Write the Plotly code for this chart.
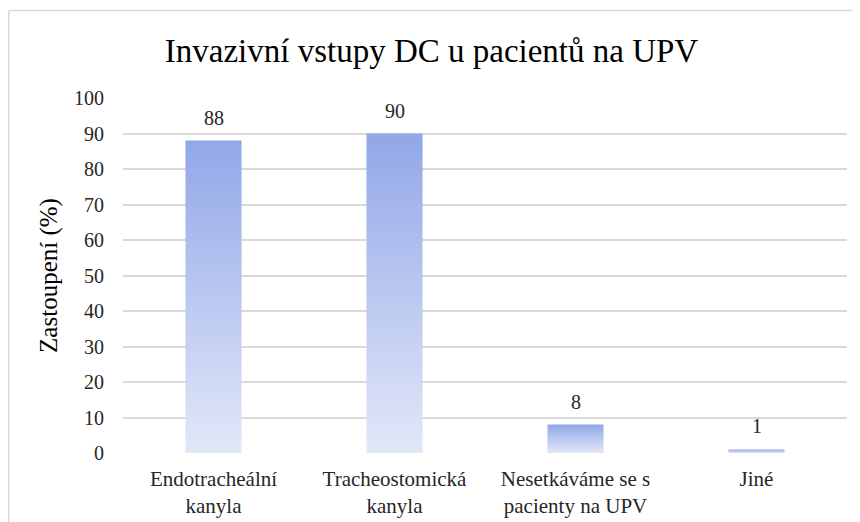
import plotly.graph_objects as go

categories = ["Endotracheální<br>kanyla", "Tracheostomická<br>kanyla", "Nesetkáváme se s<br>pacienty na UPV", "Jiné"]
values = [88, 90, 8, 1]
y_ticks = [0, 10, 20, 30, 40, 50, 60, 70, 80, 90, 100]

title_text = "Invazivní vstupy DC u pacientů na UPV"
y_title = "Zastoupení (%)"

FONT = "Liberation Serif"
TOP_COLOR = "#91A7E8"
BOTTOM_COLOR = "#E3E8F8"
HALF_W = 0.155

# plot area in figure pixels (page body adds 8px offset)
L, R, T, B = 115, 21, 90, 77
W, H = 860, 522
PW, PH = W - L - R, H - T - B

fig = go.Figure()

for i, v in enumerate(values):
    fig.add_trace(go.Scatter(
        x=[i - HALF_W, i - HALF_W, i + HALF_W, i + HALF_W, i - HALF_W],
        y=[0, v, v, 0, 0],
        fill="toself",
        mode="lines",
        line=dict(width=0),
        fillgradient=dict(type="vertical", colorscale=[[0, BOTTOM_COLOR], [1, TOP_COLOR]]),
        hoverinfo="skip",
        showlegend=False,
    ))

annotations = [
    dict(x=i, y=v, xref="x", yref="y", text=str(v), showarrow=False,
         yanchor="bottom", yshift=10, font=dict(family=FONT, size=20, color="#262626"))
    for i, v in enumerate(values)
]

def px(fx):
    return (fx - L) / PW

def py(fy):
    return (H - B - fy) / PH

fig.update_layout(
    width=W, height=H,
    margin=dict(l=L, r=R, t=T, b=B),
    paper_bgcolor="white",
    plot_bgcolor="white",
    font=dict(family=FONT, color="#262626"),
    title=dict(text=title_text, x=423.5 / W, xanchor="center", y=1 - 42 / H, yanchor="middle",
               font=dict(family=FONT, size=33, color="#000000")),
    xaxis=dict(range=[-0.5, len(values) - 0.5], tickmode="array",
               tickvals=list(range(len(values))), ticktext=categories,
               showgrid=False, zeroline=False, showline=False, ticks="",
               ticklabelstandoff=11,
               tickfont=dict(family=FONT, size=21, color="#262626")),
    yaxis=dict(range=[0, 100], tickmode="array", tickvals=y_ticks,
               showgrid=True, gridcolor="#D9D9D9", gridwidth=1.5,
               zeroline=False, showline=False, ticks="", ticklabelstandoff=18,
               tickfont=dict(family=FONT, size=20, color="#262626"),
               title=dict(text=y_title, standoff=9, font=dict(family=FONT, size=25, color="#000000"))),
    annotations=annotations,
    shapes=[
        dict(type="line", xref="paper", yref="paper", x0=px(0.75), x1=px(W + 5),
             y0=py(2.5), y1=py(2.5), line=dict(color="#D9D9D9", width=1.5)),
        dict(type="line", xref="paper", yref="paper", x0=px(0.75), x1=px(0.75),
             y0=py(2.5), y1=py(H + 5), line=dict(color="#D9D9D9", width=1.5)),
    ],
)

fig.write_html("out.html")
